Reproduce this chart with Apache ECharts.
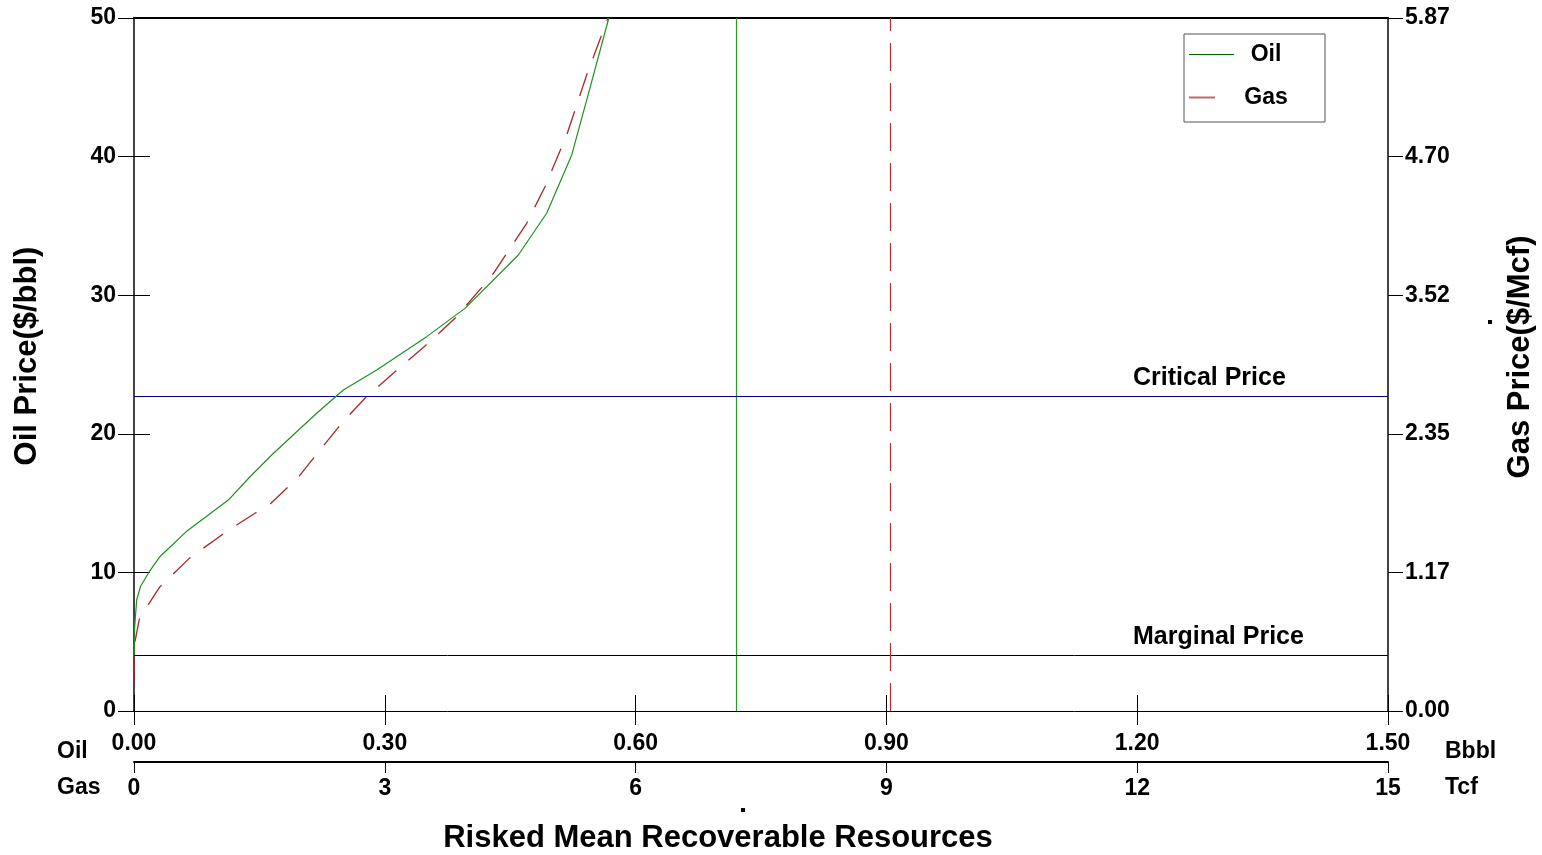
<!DOCTYPE html>
<html>
<head>
<meta charset="utf-8">
<script src="https://cdn.jsdelivr.net/npm/echarts@6/dist/echarts.min.js"></script>
<style>
html,body{margin:0;padding:0;background:#fff;}
#chart{width:1542px;height:855px;}
</style>
</head>
<body>
<div id="chart"></div>
<script>
// ---- data ----
const oilResource = [0, 0.0008, 0.0032, 0.008, 0.0183, 0.0303, 0.0638, 0.1128, 0.1388, 0.1647, 0.1946, 0.2185, 0.2504, 0.2903, 0.3501, 0.3959, 0.4597, 0.4936, 0.5236, 0.5415, 0.568];
const oilPrice    = [4.04, 6.08, 8.01, 9.02, 10.05, 11.09, 13.01, 15.22, 16.9, 18.47, 20.15, 21.48, 23.16, 24.6, 27.01, 29.05, 32.9, 35.91, 40.12, 44.08, 50];
const gasResource = [0, 0.008, 0.063, 0.159, 0.311, 0.661, 1.049, 1.208, 1.447, 1.627, 1.827, 1.965, 2.145, 2.264, 2.444, 2.575, 2.763, 3.122, 3.481, 3.840, 4.279, 4.697, 4.916, 5.176, 5.415, 5.67];
const gasPrice    = [0.246, 0.573, 0.777, 0.889, 1.053, 1.293, 1.491, 1.567, 1.675, 1.751, 1.886, 1.980, 2.140, 2.245, 2.403, 2.507, 2.649, 2.874, 3.092, 3.326, 3.684, 4.131, 4.441, 4.879, 5.387, 5.87];
const oilMean = 0.725;       // Bbbl
const gasMean = 9.05;        // Tcf
const criticalPrice = 22.73; // $/bbl
const marginalPrice = 4.04;  // $/bbl
const oilXTicks = {min: 0, max: 1.5, interval: 0.3};
const gasXTicks = {min: 0, max: 15, interval: 3};
const oilYTicks = {min: 0, max: 50, interval: 10};
const gasYTicks = {min: 0, max: 5.87, interval: 1.174};

const FONT = "'Liberation Sans', Arial, Helvetica, sans-serif";
const lbl = {fontFamily: FONT, fontWeight: 'bold', fontSize: 23, color: '#000'};

const chart = echarts.init(document.getElementById('chart'), null, {renderer: 'canvas'});

const noSplit = {show: false};
function hiddenAxis(base, extra) {
  return Object.assign({
    type: 'value', min: base.min, max: base.max, interval: base.interval,
    axisLine: {show: false}, axisLabel: {show: false}, splitLine: noSplit
  }, extra);
}
function txt(text, x, y, size, align, rot) {
  return {type: 'text', x: x, y: y, rotation: rot || 0,
    style: {text: text, font: 'bold ' + size + 'px ' + FONT, fill: '#000',
      align: align, verticalAlign: 'middle', textAlign: align, textVerticalAlign: 'middle'}};
}

const option = {
  backgroundColor: '#fff',
  animation: false,
  grid: {left: 134, right: 154, top: 18, bottom: 144, containLabel: false},
  legend: {
    orient: 'vertical', left: 1184, top: 34,
    padding: [9, 32, 13, 4],
    itemGap: 20, itemWidth: 45, itemHeight: 14,
    borderColor: '#555', borderWidth: 1, backgroundColor: '#fff',
    itemStyle: {opacity: 0},
    formatter: '{c|{name}}',
    textStyle: {rich: {c: {width: 54, align: 'center', fontFamily: FONT, fontWeight: 'bold', fontSize: 23, lineHeight: 24, color: '#000'}}},
    data: [
      {name: 'Oil', itemStyle: {opacity: 0}, lineStyle: {color: '#006400', width: 1}},
      {name: 'Gas', itemStyle: {opacity: 0}, lineStyle: {color: '#c06868', width: 2, type: [26, 40]}}
    ]
  },
  xAxis: [
    Object.assign({type: 'value', position: 'bottom', gridIndex: 0,
      axisLine: {show: true, onZero: false, lineStyle: {color: '#000', width: 1}},
      axisTick: {show: true, length: 14, lineStyle: {color: '#000'}},
      axisLabel: Object.assign({margin: 21, formatter: v => v.toFixed(2)}, lbl),
      splitLine: noSplit}, oilXTicks),
    Object.assign({type: 'value', position: 'bottom', offset: 51,
      axisLine: {show: true, onZero: false, lineStyle: {color: '#000', width: 2}},
      axisTick: {show: true, length: 11, lineStyle: {color: '#000'}},
      axisLabel: Object.assign({margin: 15, formatter: v => String(Math.round(v))}, lbl),
      splitLine: noSplit}, gasXTicks),
    hiddenAxis(oilXTicks, {position: 'bottom', axisTick: {show: true, inside: true, length: 16, lineStyle: {color: '#000'}}}),
    hiddenAxis(gasXTicks, {position: 'bottom', offset: 51, axisTick: {show: true, inside: true, length: 9, lineStyle: {color: '#000'}}}),
    hiddenAxis(oilXTicks, {position: 'top', axisTick: {show: false}, axisLine: {show: true, onZero: false, lineStyle: {color: '#000', width: 2}}})
  ],
  yAxis: [
    Object.assign({type: 'value', position: 'left',
      axisLine: {show: true, onZero: false, lineStyle: {color: '#444', width: 2}},
      axisTick: {show: true, length: 16, lineStyle: {color: '#000'}},
      axisLabel: Object.assign({margin: 18, padding: [4, 0, 0, 0]}, lbl),
      splitLine: noSplit}, oilYTicks),
    Object.assign({type: 'value', position: 'right',
      axisLine: {show: true, onZero: false, lineStyle: {color: '#444', width: 2}},
      axisTick: {show: true, length: 15, lineStyle: {color: '#000'}},
      axisLabel: Object.assign({margin: 17, padding: [4, 0, 0, 0], formatter: v => v.toFixed(2)}, lbl),
      splitLine: noSplit}, gasYTicks),
    hiddenAxis(oilYTicks, {position: 'left', axisTick: {show: true, inside: true, length: 16, lineStyle: {color: '#000'}}}),
    hiddenAxis(gasYTicks, {position: 'right', axisTick: {show: true, inside: true, length: 15, lineStyle: {color: '#000'}}})
  ],
  series: [
    {
      name: 'Oil', type: 'line', xAxisIndex: 0, yAxisIndex: 0,
      symbol: 'none', smooth: false, z: 5,
      lineStyle: {color: '#1f8f1f', width: 1.2},
      data: oilResource.map((x, i) => [x, oilPrice[i]]),
      markLine: {
        silent: true, symbol: 'none', animation: false,
        data: [
          {xAxis: oilMean, lineStyle: {color: '#2a9a2a', width: 1.2, type: 'solid'}, label: {show: false}},
          {yAxis: criticalPrice, lineStyle: {color: '#00008b', width: 1.2, type: 'solid'},
            label: {show: true, position: 'insideEndTop', distance: 5, formatter: '{a|Critical Price}',
              rich: {a: {width: 250, align: 'left', fontFamily: FONT, fontWeight: 'bold', fontSize: 25, color: '#000'}}}},
          {yAxis: marginalPrice, lineStyle: {color: '#000', width: 1, type: 'solid'},
            label: {show: true, position: 'insideEndTop', distance: 5, formatter: '{a|Marginal Price}',
              rich: {a: {width: 250, align: 'left', fontFamily: FONT, fontWeight: 'bold', fontSize: 25, color: '#000'}}}}
        ]
      }
    },
    {
      name: 'Gas', type: 'line', xAxisIndex: 1, yAxisIndex: 1,
      symbol: 'none', smooth: false, z: 4,
      lineStyle: {color: '#a52a2a', width: 1.3, type: [24, 16]},
      data: gasResource.map((x, i) => [x, gasPrice[i]]),
      markLine: {
        silent: true, symbol: 'none', animation: false,
        data: [
          {xAxis: gasMean, lineStyle: {color: '#b03030', width: 1.2, type: [28, 12]}, label: {show: false}}
        ]
      }
    }
  ],
  graphic: [
    txt('Oil', 57, 752, 23, 'left'),
    txt('Gas', 57, 788, 23, 'left'),
    txt('Bbbl', 1445, 752, 23, 'left'),
    txt('Tcf', 1445, 788, 23, 'left'),
    txt('Risked Mean Recoverable Resources', 718, 838, 31, 'center'),
    txt('Oil Price($/bbl)', 27, 356, 31, 'center', Math.PI / 2),
    txt('Gas Price($/Mcf)', 1520, 357, 31, 'center', Math.PI / 2),
    {type: 'rect', shape: {x: 741, y: 808, width: 4, height: 4}, style: {fill: '#000'}},
    {type: 'rect', shape: {x: 1488, y: 320, width: 4, height: 4}, style: {fill: '#000'}}
  ]
};
chart.setOption(option);
</script>
</body>
</html>
